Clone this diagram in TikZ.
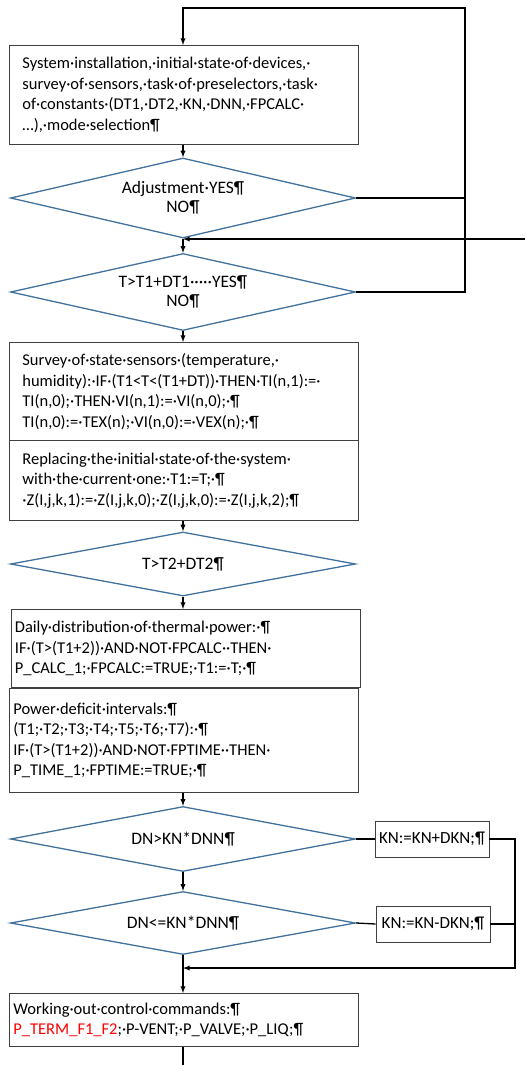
\documentclass[tikz,border=0pt]{standalone}
\usepackage{fontspec}
\setmainfont{Carlito}
\usetikzlibrary{shapes.geometric}
\definecolor{flowblue}{RGB}{65,113,156}
\definecolor{boxgray}{RGB}{64,64,64}
\tikzset{
	txtbox/.style={draw=boxgray, line width=0.8pt, rectangle, anchor=north west, align=left, inner ysep=0pt, font=\fontsize{16.5}{20.5}\selectfont},
	decision/.style={draw=flowblue, line width=1.3pt, diamond, shape aspect=4.3, inner sep=0pt, minimum width=345pt, align=center, font=\fontsize{17.5}{19}\selectfont},
	smallbox/.style={draw=boxgray, line width=0.8pt, rectangle, inner sep=0pt, minimum width=114pt, minimum height=36pt, font=\fontsize{17}{19}\selectfont},
	flow/.style={line width=1.3pt, -latex},
	wire/.style={line width=1.3pt},
}
\begin{document}
\begin{tikzpicture}[x=1pt, y=-1pt]
	\useasboundingbox (0,0) rectangle (525,1065);
		\node [txtbox, text width=323pt, inner xsep=13pt, minimum height=99pt] (install) at (9,45) {System·installation,·initial·state·of·devices,·\\survey·of·sensors,·task·of·preselectors,·task·\\of·constants·(DT1,·DT2,·KN,·DNN,·FPCALC·\\…),·mode·selection¶};
		\node [decision, minimum height=80pt] (adjust) at (183,198) {Adjustment·YES¶\\NO¶};
		\node [decision, minimum height=77pt] (dtone) at (183,292) {T>T1+DT1·····YES¶\\NO¶};
		\node [txtbox, text width=323pt, inner xsep=13pt, minimum height=98pt] (survey) at (9,342) {Survey·of·state·sensors·(temperature,·\\humidity):·IF·(T1<T<(T1+DT))·THEN·TI(n,1):=·\\TI(n,0);·THEN·VI(n,1):=·VI(n,0);·¶\\TI(n,0):=·TEX(n);·VI(n,0):=·VEX(n);·¶};
		\node [txtbox, text width=323pt, inner xsep=13pt, minimum height=80pt] (replace) at (9,440) {Replacing·the·initial·state·of·the·system·\\with·the·current·one:·T1:=T;·¶\\·Z(I,j,k,1):=·Z(I,j,k,0);·Z(I,j,k,0):=·Z(I,j,k,2);¶};
		\node [decision, minimum height=64pt] (dttwo) at (183,564) {T>T2+DT2¶};
		\node [txtbox, text width=342pt, inner xsep=3.5pt, minimum height=78pt] (daily) at (11,609) {Daily·distribution·of·thermal·power:·¶\\IF·(T>(T1+2))·AND·NOT·FPCALC··THEN·\\P\_CALC\_1;·FPCALC:=TRUE;·T1:=·T;·¶};
		\node [txtbox, text width=341pt, inner xsep=4pt, minimum height=104pt] (deficit) at (9,688) {Power·deficit·intervals:¶\\(T1;·T2;·T3;·T4;·T5;·T6;·T7):·¶\\IF·(T>(T1+2))·AND·NOT·FPTIME··THEN·\\P\_TIME\_1;·FPTIME:=TRUE;·¶};
		\node [decision, minimum height=65pt] (dnup) at (183,839) {DN>KN*DNN¶};
		\node [decision, minimum height=63pt] (dndown) at (183,923) {DN<=KN*DNN¶};
		\node [smallbox] (knplus) at (432,839) {KN:=KN+DKN;¶};
		\node [smallbox] (knminus) at (433,924) {KN:=KN-DKN;¶};
		\node [txtbox, text width=341pt, inner xsep=4pt, minimum height=53pt] (control) at (9,993) {Working·out·control·commands:¶\\\textcolor{red}{P\_TERM\_F1\_F2};·P-VENT;·P\_VALVE;·P\_LIQ;¶};
		\coordinate (topR) at (465,8);
		\coordinate (entry) at (525,239);
		\coordinate (backR) at (515,968);
		\coordinate (exit) at (183,1065);
		\draw[flow] (adjust.east) -| (topR) -| (install.north -| adjust.north);
		\draw[wire] (dtone.east) -| (topR);
		\draw[flow] (install.south -| adjust.north) -- (adjust.north);
		\draw[flow] (entry) -- (entry -| adjust.south);
		\draw[flow] (adjust.south) -- (dtone.north);
		\draw[flow] (dtone.south) -- (dtone.south |- survey.north);
		\draw[flow] (replace.south -| dttwo.north) -- (dttwo.north);
		\draw[flow] (dttwo.south) -- (dttwo.south |- daily.north);
		\draw[flow] (deficit.south -| dnup.north) -- (dnup.north);
		\draw[flow] (dnup.south) -- (dndown.north);
		\draw[wire] (dnup.east) -- (knplus.west);
		\draw[wire] (dndown.east) -- (knminus.west);
		\draw[flow] (knplus.east) -| (backR) -- (backR -| dndown.south);
		\draw[wire] (knminus.east) -- (knminus.east -| backR);
		\draw[flow] (dndown.south) -- (dndown.south |- control.north);
		\draw[wire] (control.south -| exit) -- (exit);
	\end{tikzpicture}
\end{document}
